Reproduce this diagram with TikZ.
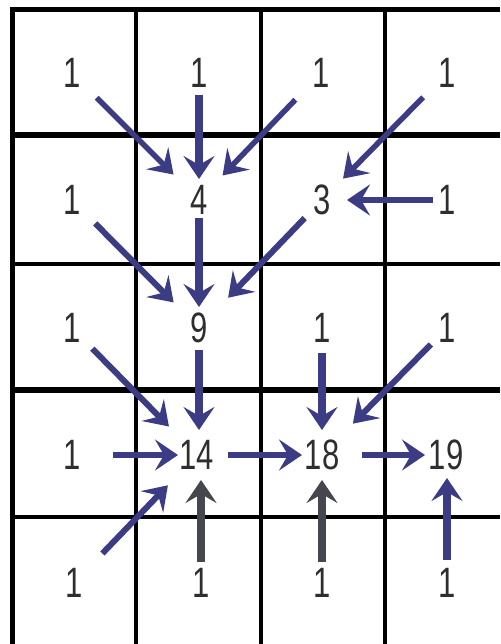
\documentclass[tikz,border=0pt]{standalone}
\usepackage{fontspec}
\setmainfont{Liberation Sans}
\usetikzlibrary{arrows.meta}
\definecolor{navy}{HTML}{3C3C84}
\definecolor{darkg}{HTML}{46464E}
\definecolor{txt}{HTML}{2E2E2E}
\newcommand\tallnum[1]{\scalebox{1}[1.37]{#1}}
\begin{document}
\begin{tikzpicture}[x=1pt,y=-1pt,
  num/.style={inner sep=0pt, text=txt, font=\fontsize{31}{31}\selectfont},
  thickline/.style={line width=6pt, black},
  thinline/.style={line width=3.8pt, black},
  vline/.style={line width=3.5pt, black},
  arr/.style={draw=navy, line width=6pt, -{Stealth[length=23pt,width=31pt,inset=9pt]}},
  varr/.style={arr, line width=7.5pt},
  garr/.style={varr, draw=darkg},
]
\useasboundingbox (0,0) rectangle (500,644);
\fill[white] (0,0) rectangle (500,644);
% grid
\draw[line width=5pt] (12.5,7) -- (12.5,644);
\draw[vline] (136,8) -- (136,644);
\draw[vline] (261,8) -- (261,644);
\draw[vline] (385,8) -- (385,644);
\draw[line width=5pt] (10,9.5) -- (500,9.5);
\draw[thickline] (10,135.5) -- (500,135.5);
\draw[thinline] (10,264) -- (500,264);
\draw[thickline] (10,389.5) -- (500,389.5);
\draw[thinline] (10,517) -- (500,517);
% numbers
\node[num] (r0c0) at (72,73) {\tallnum{1}};
\node[num] (r0c1) at (199,73) {\tallnum{1}};
\node[num] (r0c2) at (321,73) {\tallnum{1}};
\node[num] (r0c3) at (447,73) {\tallnum{1}};
\node[num] (r1c0) at (72,200) {\tallnum{1}};
\node[num] (r1c1) at (199,200) {\tallnum{4}};
\node[num] (r1c2) at (322,200) {\tallnum{3}};
\node[num] (r1c3) at (447,200) {\tallnum{1}};
\node[num] (r2c0) at (72,328) {\tallnum{1}};
\node[num] (r2c1) at (199,328) {\tallnum{9}};
\node[num] (r2c2) at (322,328) {\tallnum{1}};
\node[num] (r2c3) at (447,328) {\tallnum{1}};
\node[num] (r3c0) at (72,455) {\tallnum{1}};
\node[num] (r3c1) at (197,455) {\tallnum{14}};
\node[num] (r3c2) at (322,455) {\tallnum{18}};
\node[num] (r3c3) at (446,455) {\tallnum{19}};
\node[num] (r4c0) at (74,583) {\tallnum{1}};
\node[num] (r4c1) at (201,583) {\tallnum{1}};
\node[num] (r4c2) at (322,583) {\tallnum{1}};
\node[num] (r4c3) at (447,583) {\tallnum{1}};
% arrows
\draw[arr, line width=5.5pt, shorten <=35pt, shorten >=36pt] (r0c0.center) -- (r1c1.center);
\draw[varr, shorten <=22pt, shorten >=21pt] (r0c1.center) -- (r1c1.center);
\draw[arr, line width=5.5pt, shorten <=37pt, shorten >=34pt] (r0c2.center) -- (r1c1.center);
\draw[arr, line width=5.5pt, shorten <=34pt, shorten >=30pt] (r0c3.center) -- (r1c2.center);
\draw[arr, shorten <=14pt, shorten >=25pt] (r1c3.center) -- (r1c2.center);
\draw[arr, shorten <=33pt, shorten >=36pt] (r1c0.center) -- (r2c1.center);
\draw[varr, shorten <=18pt, shorten >=21pt] (r1c1.center) -- (r2c1.center);
\draw[arr, shorten <=25pt, shorten >=42pt] (r1c2.center) -- (r2c1.center);
\draw[arr, shorten <=29pt, shorten >=40pt] (r2c0.center) -- (r3c1.center);
\draw[varr, shorten <=22pt, shorten >=25pt] (r2c1.center) -- (r2c1 |- r3c1);
\draw[varr, shorten <=25pt, shorten >=25pt] (r2c2.center) -- (r3c2.center);
\draw[arr, shorten <=23pt, shorten >=44pt] (r2c3.center) -- (r3c2.center);
\draw[arr, shorten <=41pt, shorten >=19pt] (r3c0.center) -- (r3c1.center);
\draw[arr, shorten <=31pt, shorten >=20pt] (r3c1.center) -- (r3c2.center);
\draw[arr, shorten <=40pt, shorten >=21pt] (r3c2.center) -- (r3c3.center);
\draw[arr, shorten <=41pt, shorten >=42pt] (r4c0.center) -- (r3c1.center);
\draw[garr, shorten <=21pt, shorten >=25pt] (r4c1.center) -- (r4c1 |- r3c1);
\draw[garr, shorten <=21pt, shorten >=25pt] (r4c2.center) -- (r3c2.center);
\draw[varr, shorten <=23pt, shorten >=23pt] (r4c3.center) -- (r4c3 |- r3c3);
\end{tikzpicture}
\end{document}
